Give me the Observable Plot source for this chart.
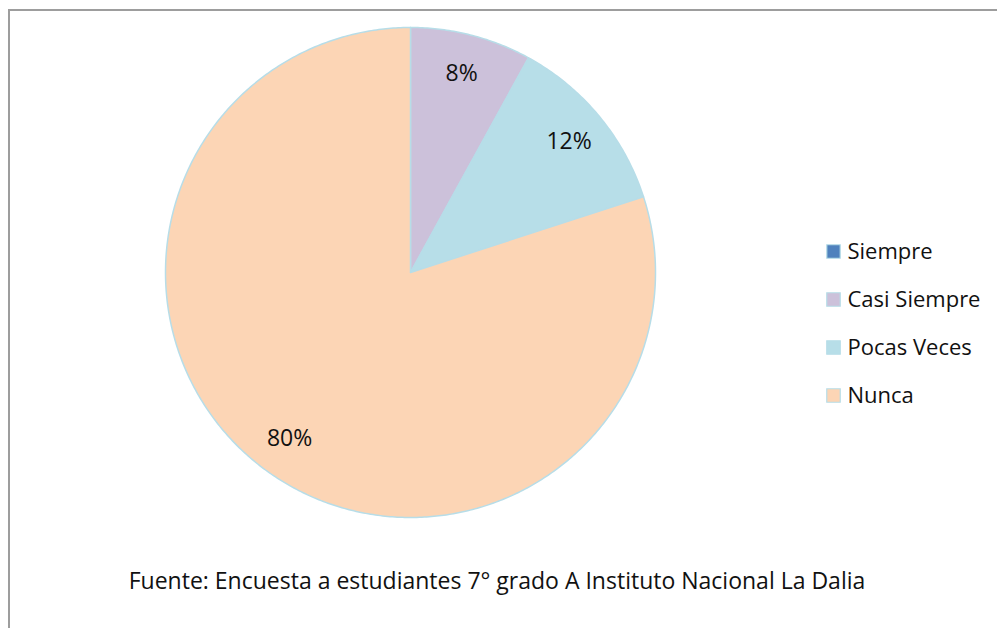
<!DOCTYPE html>
<html><head><meta charset="utf-8">
<script src="https://cdn.jsdelivr.net/npm/d3@7"></script>
<script src="https://cdn.jsdelivr.net/npm/@observablehq/plot@0.6"></script>
<style>
body{margin:0;background:#fff;width:997px;height:628px;overflow:hidden;position:relative;font-family:"Open Sans",sans-serif}
#frame{position:absolute;left:8px;top:9px;width:1100px;height:700px;border-top:2px solid #9d9d9d;border-left:2px solid #9d9d9d;box-sizing:border-box}
#pie{position:absolute;left:0;top:0}
#legend{position:absolute;left:818px;top:226px}
#caption{position:absolute;left:0;width:994px;top:563px;line-height:34px;text-align:center;font-size:23px;color:#111;white-space:nowrap}
</style></head>
<body>
<div id="frame"></div>
<div id="pie"></div>
<div id="legend"></div>
<div id="caption"></div>
<script>
const categories = ["Siempre", "Casi Siempre", "Pocas Veces", "Nunca"];
const values = [0, 8, 12, 80];
const colors = ["#4f81bd", "#ccc1da", "#b7dee8", "#fcd5b5"];
const captionText = "Fuente: Encuesta a estudiantes 7° grado A Instituto Nacional La Dalia";

const data = categories.map((c, i) => ({cat: c, value: values[i]}));
const arcs = d3.pie().sort(null).value(d => d.value)(data);

// polygon points for each slice
const pts = [];
for (const a of arcs) {
  pts.push({cat: a.data.cat, x: 0, y: 0});
  const n = Math.max(2, Math.ceil((a.endAngle - a.startAngle) / 0.01));
  for (let k = 0; k <= n; k++) {
    const t = a.startAngle + (a.endAngle - a.startAngle) * k / n;
    pts.push({cat: a.data.cat, x: Math.sin(t), y: Math.cos(t)});
  }
  pts.push({cat: a.data.cat, x: 0, y: 0});
}
const labelR = 0.84;
const labs = arcs.filter(a => a.data.value > 0).map(a => {
  const m = (a.startAngle + a.endAngle) / 2;
  return {x: Math.sin(m) * labelR, y: Math.cos(m) * labelR, text: a.data.value + "%"};
});

const color = {domain: categories, range: colors};

const pie = Plot.plot({
  width: 997, height: 628, margin: 0,
  x: {domain: [-1, 1], range: [165, 655], axis: null},
  y: {domain: [-1, 1], range: [517, 27], axis: null},
  color,
  style: {background: "transparent", fontFamily: "'Open Sans', sans-serif"},
  marks: [
    Plot.line(pts, {x: "x", y: "y", z: "cat", fill: "cat", stroke: "#b7dde8", strokeWidth: 1.5, curve: "linear"}),
    Plot.text(labs, {x: "x", y: "y", text: "text", fontSize: 23, fill: "#111"})
  ]
});
document.getElementById("pie").append(pie);

const legend = Plot.plot({
  width: 175, height: 200, margin: 0,
  y: {type: "point", domain: categories, range: [24, 169], padding: 0, axis: null},
  color,
  style: {background: "transparent", fontFamily: "'Open Sans', sans-serif"},
  marks: [
    Plot.dot(categories, {y: d => d, fill: d => d, symbol: "square", r: 7.6, stroke: "#b7dde8", strokeWidth: 1.2, frameAnchor: "left", dx: 15}),
    Plot.text(categories, {y: d => d, text: d => d, frameAnchor: "left", dx: 29, textAnchor: "start", fontSize: 22, fill: "#111"})
  ]
});
document.getElementById("legend").append(legend);
document.getElementById("caption").textContent = captionText;
</script>
</body></html>
